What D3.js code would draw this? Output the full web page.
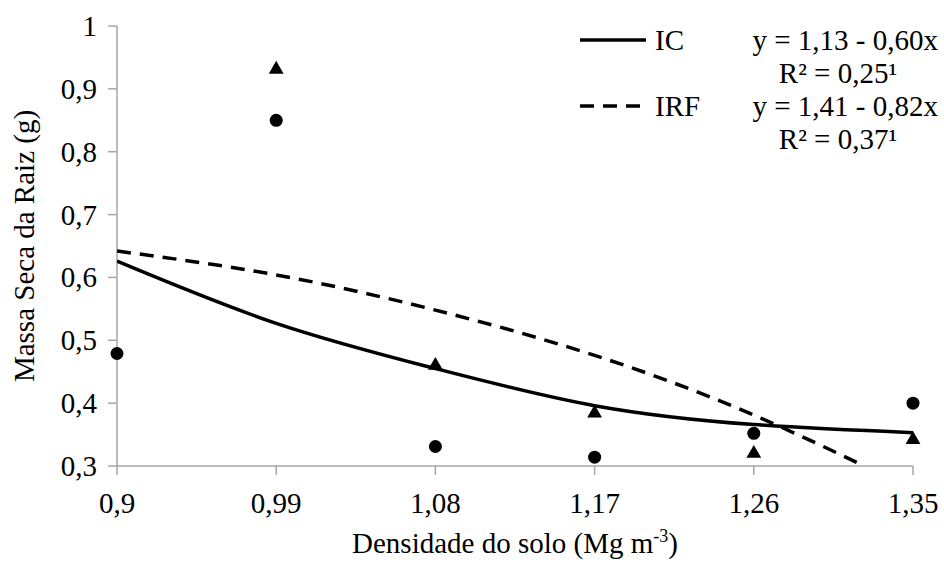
<!DOCTYPE html>
<html>
<head>
<meta charset="utf-8">
<script src="https://cdn.jsdelivr.net/npm/d3@7"></script>
</head>
<body style="margin:0">
<script>
// densidade do solo (x) and the measured root dry mass
const densidade = [0.9, 0.99, 1.08, 1.17, 1.26, 1.35];
const tickLabels = ["0,9", "0,99", "1,08", "1,17", "1,26", "1,35"];
const yTicks = [0.3, 0.4, 0.5, 0.6, 0.7, 0.8, 0.9, 1];
const yTickLabels = ["0,3", "0,4", "0,5", "0,6", "0,7", "0,8", "0,9", "1"];

// observed points
const circleValues = [0.479, 0.850, 0.331, 0.314, 0.352, 0.400];
const triangleX = [0.99, 1.08, 1.17, 1.26, 1.35];
const triangleValues = [0.931, 0.460, 0.384, 0.320, 0.342];

// fitted curves, read at each density
const icCurve = [0.626, 0.527, 0.455, 0.396, 0.366, 0.353];
const irfCurve = [0.642, 0.604, 0.548, 0.476, 0.381, 0.262];

const legendNames = ["IC", "IRF"];
const legendEqs = ["y = 1,13 - 0,60x", "y = 1,41 - 0,82x"];
const legendR2 = ["R² = 0,25¹", "R² = 0,37¹"];
const legendDash = [null, "14,9"];

const width = 944, height = 562;
const margin = {top: 26, right: 31, bottom: 96, left: 117};
const axisColor = "#a6a6a6";

const svg = d3.select("body").append("svg")
    .attr("width", width)
    .attr("height", height);

const x = d3.scaleLinear()
    .domain([0.9, 1.35])
    .range([margin.left, width - margin.right]);

const y = d3.scaleLinear()
    .domain([0.3, 1])
    .range([height - margin.bottom, margin.top]);

function addText(t, px) {
  return svg.append("text")
      .style("font-family", "'Liberation Serif'")
      .style("font-size", px + "px")
      .text(t);
}

// axis lines and ticks
svg.append("line")
    .attr("x1", x(0.9)).attr("x2", x(1.35))
    .attr("y1", y(0.3)).attr("y2", y(0.3))
    .attr("stroke", axisColor).attr("stroke-width", 1.5);
svg.append("line")
    .attr("x1", x(0.9)).attr("x2", x(0.9))
    .attr("y1", y(0.3)).attr("y2", y(1))
    .attr("stroke", axisColor).attr("stroke-width", 1.5);

densidade.forEach((d, i) => {
  svg.append("line")
      .attr("x1", x(d)).attr("x2", x(d))
      .attr("y1", y(0.3)).attr("y2", y(0.3) + 9)
      .attr("stroke", axisColor).attr("stroke-width", 1.5);
  addText(tickLabels[i], 29)
      .attr("x", x(d))
      .attr("y", y(0.3) + 47)
      .attr("text-anchor", "middle");
});

yTicks.forEach((d, i) => {
  svg.append("line")
      .attr("x1", x(0.9) - 9).attr("x2", x(0.9))
      .attr("y1", y(d)).attr("y2", y(d))
      .attr("stroke", axisColor).attr("stroke-width", 1.5);
  addText(yTickLabels[i], 29)
      .attr("x", x(0.9) - 20)
      .attr("y", y(d) + 10)
      .attr("text-anchor", "end");
});

// axis titles
const xTitle = addText("Densidade do solo (Mg m", 29)
    .attr("x", (x(0.9) + x(1.35)) / 2)
    .attr("y", 553)
    .attr("text-anchor", "middle");
xTitle.append("tspan")
    .attr("dy", -11)
    .style("font-size", "18px")
    .text("-3");
xTitle.append("tspan")
    .attr("dy", 11)
    .text(")");

addText("Massa Seca da Raiz (g)", 29)
    .attr("transform", `translate(34,${(y(0.3) + y(1)) / 2}) rotate(-90)`)
    .attr("text-anchor", "middle");

// fitted curves
svg.append("clipPath")
    .attr("id", "plotClip")
  .append("rect")
    .attr("x", x(0.9))
    .attr("y", y(1))
    .attr("width", x(1.35) - x(0.9) + 2)
    .attr("height", y(0.3) - y(1) - 2);

const line = d3.line()
    .x(d => x(d[0]))
    .y(d => y(d[1]))
    .curve(d3.curveNatural);

svg.append("path")
    .datum(densidade.map((d, i) => [d, icCurve[i]]))
    .attr("clip-path", "url(#plotClip)")
    .attr("fill", "none")
    .attr("stroke", "#000")
    .attr("stroke-width", 3.5)
    .attr("d", line);

svg.append("path")
    .datum(densidade.map((d, i) => [d, irfCurve[i]]))
    .attr("clip-path", "url(#plotClip)")
    .attr("fill", "none")
    .attr("stroke", "#000")
    .attr("stroke-width", 3.5)
    .attr("stroke-dasharray", "14,9")
    .attr("d", line);

// observed points
svg.selectAll(".circ")
    .data(densidade.map((d, i) => [d, circleValues[i]]))
    .enter().append("circle")
    .attr("class", "circ")
    .attr("cx", d => x(d[0]))
    .attr("cy", d => y(d[1]))
    .attr("r", 6.5)
    .attr("fill", "#000");

const tri = d3.symbol().type(d3.symbolTriangle).size(95);
svg.selectAll(".tri")
    .data(triangleX.map((d, i) => [d, triangleValues[i]]))
    .enter().append("path")
    .attr("class", "tri")
    .attr("transform", d => `translate(${x(d[0])},${y(d[1])})`)
    .attr("d", tri)
    .attr("fill", "#000");

// legend
legendNames.forEach((name, i) => {
  const top = 50 + i * 66;
  svg.append("line")
      .attr("x1", 580).attr("x2", 646)
      .attr("y1", top - 10).attr("y2", top - 10)
      .attr("stroke", "#000")
      .attr("stroke-width", 3.5)
      .attr("stroke-dasharray", legendDash[i]);
  addText(name, 29).attr("x", 655).attr("y", top);
  addText(legendEqs[i], 29).attr("x", 938).attr("y", top).attr("text-anchor", "end");
  addText(legendR2[i], 29).attr("x", 838).attr("y", top + 33).attr("text-anchor", "middle");
});
</script>
</body>
</html>
